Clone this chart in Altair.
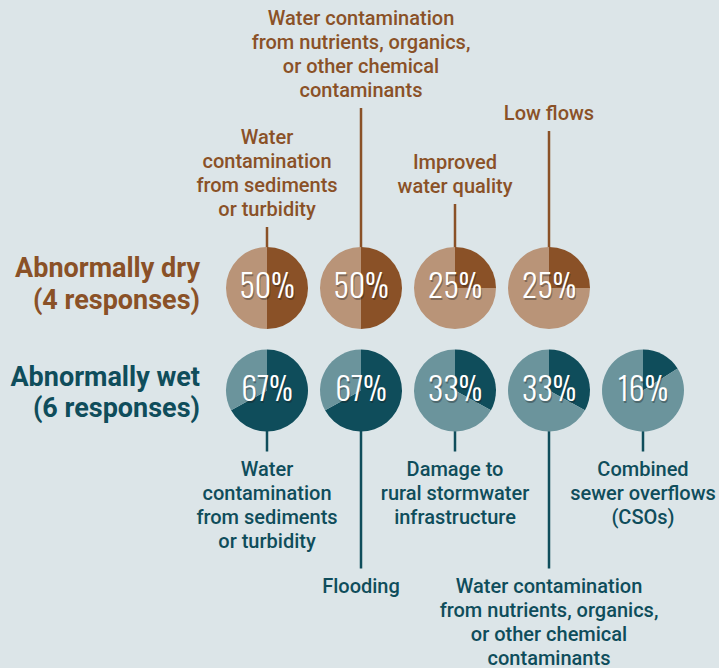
import math
import altair as alt
import pandas as pd

# ---------------- data ----------------
row_names = ["Abnormally dry", "Abnormally wet"]
row_responses = [4, 6]

dry_labels = [
    "Water\ncontamination\nfrom sediments\nor turbidity",
    "Water contamination\nfrom nutrients, organics,\nor other chemical\ncontaminants",
    "Improved\nwater quality",
    "Low flows",
]
dry_values = [50, 50, 25, 25]

wet_labels = [
    "Water\ncontamination\nfrom sediments\nor turbidity",
    "Flooding",
    "Damage to\nrural stormwater\ninfrastructure",
    "Water contamination\nfrom nutrients, organics,\nor other chemical\ncontaminants",
    "Combined\nsewer overflows\n(CSOs)",
]
wet_values = [67, 67, 33, 33, 16]

# ---------------- style / layout ----------------
BG = "#dce5e8"
DARK = ["#8a5127", "#0f4d5b"]
LIGHT = ["#b99478", "#6b949c"]
W, H = 719, 668
COL_RANGE = [267, 643]          # pixel centre of first and last column
ROW_RANGE = [288, 390.5]        # pixel centre of the two rows
ROW_PX = ROW_RANGE[1] - ROW_RANGE[0]
COL_PX = (COL_RANGE[1] - COL_RANGE[0]) / 4
R = 41
leaders = [[20, 139, 43, 116], [20, 137, 20, 137, 20]]
LAB_FS, LAB_LH = 20, 24
GAP_TOP, GAP_BOTTOM = 7, 8
ROW_FS, ROW_LH = 27, 31.5
ROW_LABEL_RIGHT = 200
row_label_first = [-19, -13]
PCT_FONT = "Oswald, 'Liberation Sans Narrow', 'DejaVu Sans Condensed', 'Roboto Condensed', Roboto"

labels_by_row = [dry_labels, wet_labels]
values_by_row = [dry_values, wet_values]

# ---------------- tables ----------------
slices, rules, texts, pcts, rowlabs = [], [], [], [], []
for r in range(2):
    for c, (lab, v) in enumerate(zip(labels_by_row[r], values_by_row[r])):
        a = v / 100 * 2 * math.pi
        slices.append(dict(row=r, col=c, t0=0.0, t1=a, key=f"{r}-dark"))
        slices.append(dict(row=r, col=c, t0=a, t1=2 * math.pi, key=f"{r}-light"))
        ln = leaders[r][c]
        n = lab.count("\n") + 1
        if r == 0:
            yend = r - (R + ln) / ROW_PX
            ylab = r - (R + ln + GAP_TOP + (n - 1) * LAB_LH) / ROW_PX
        else:
            yend = r + (R + ln) / ROW_PX
            ylab = r + (R + ln + GAP_BOTTOM) / ROW_PX
        rules.append(dict(row=r, col=c, yend=yend))
        texts.append(dict(row=r, col=c, ylab=ylab, label=lab))
        pcts.append(dict(row=r, col=c, pct=f"{v}%"))
    rowlabs.append(dict(row=r, ypos=r + row_label_first[r] / ROW_PX,
                        xpos=(ROW_LABEL_RIGHT - COL_RANGE[0]) / COL_PX,
                        label=f"{row_names[r]}\n({row_responses[r]} responses)"))

df_slices = pd.DataFrame(slices)
df_rules = pd.DataFrame(rules)
df_texts = pd.DataFrame(texts)
df_pcts = pd.DataFrame(pcts)
df_rowlabs = pd.DataFrame(rowlabs)

xs = alt.Scale(domain=[0, 4], range=COL_RANGE, nice=False, zero=False)
ys = alt.Scale(domain=[0, 1], range=ROW_RANGE, nice=False, zero=False)

layers = []
for r in range(2):
    layers.append(
        alt.Chart(df_rules[df_rules.row == r]).mark_rule(color=DARK[r], strokeWidth=2.5).encode(
            x=alt.X("col:Q", scale=xs, axis=None),
            y=alt.Y("row:Q", scale=ys, axis=None),
            y2="yend:Q",
        )
    )
    layers.append(
        alt.Chart(df_texts[df_texts.row == r]).mark_text(
            font="Roboto", fontSize=LAB_FS, fontWeight=500, color=DARK[r],
            align="center", baseline="bottom" if r == 0 else "top",
            lineBreak="\n", lineHeight=LAB_LH,
        ).encode(
            x=alt.X("col:Q", scale=xs, axis=None),
            y=alt.Y("ylab:Q", scale=ys, axis=None),
            text="label:N",
        )
    )
    layers.append(
        alt.Chart(df_rowlabs[df_rowlabs.row == r]).mark_text(
            font="Roboto", fontSize=ROW_FS, fontWeight="bold", color=DARK[r],
            align="right", baseline="middle", lineBreak="\n", lineHeight=ROW_LH,
        ).encode(
            x=alt.X("xpos:Q", scale=xs, axis=None),
            y=alt.Y("ypos:Q", scale=ys, axis=None),
            text="label:N",
        )
    )

pies = alt.Chart(df_slices).mark_arc(radius=R).encode(
    x=alt.X("col:Q", scale=xs, axis=None),
    y=alt.Y("row:Q", scale=ys, axis=None),
    theta=alt.Theta("t0:Q", scale=None),
    theta2="t1:Q",
    color=alt.Color(
        "key:N",
        scale=alt.Scale(domain=["0-dark", "0-light", "1-dark", "1-light"],
                        range=[DARK[0], LIGHT[0], DARK[1], LIGHT[1]]),
        legend=None,
    ),
)

pct_shadow = alt.Chart(df_pcts).mark_text(
    font=PCT_FONT, fontSize=32, fontWeight=300, color="#1a1a1a", opacity=0.35,
    align="center", baseline="middle", dx=1, dy=2,
).encode(
    x=alt.X("col:Q", scale=xs, axis=None),
    y=alt.Y("row:Q", scale=ys, axis=None),
    text="pct:N",
)

pct_text = alt.Chart(df_pcts).mark_text(
    font=PCT_FONT, fontSize=32, fontWeight=300, color="white",
    align="center", baseline="middle",
).encode(
    x=alt.X("col:Q", scale=xs, axis=None),
    y=alt.Y("row:Q", scale=ys, axis=None),
    text="pct:N",
)

chart = alt.layer(*layers, pies, pct_shadow, pct_text).properties(
    width=W, height=H, padding=0, autosize="none", background=BG,
).configure_view(stroke=None)

chart.save("out.html", embed_options={"renderer": "svg", "actions": False})
